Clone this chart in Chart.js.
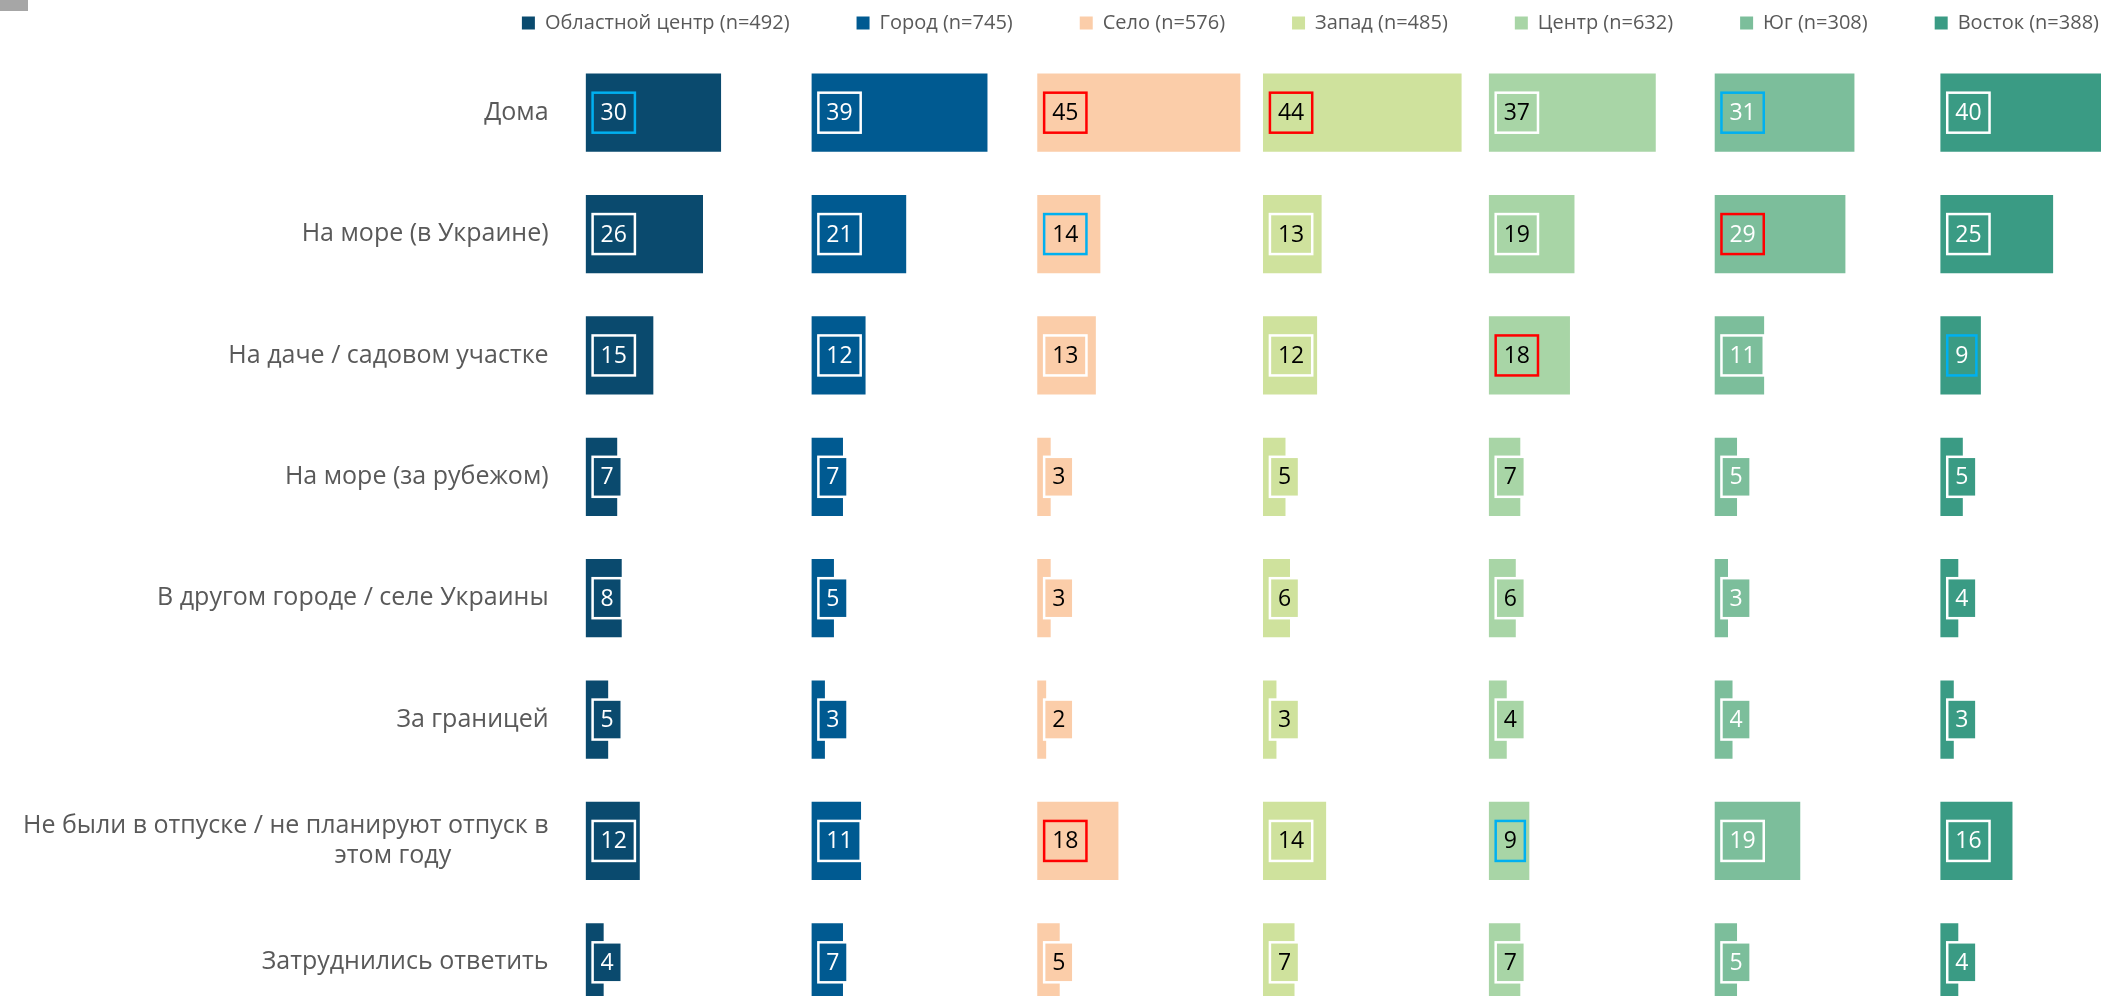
<!DOCTYPE html>
<html>
<head>
<meta charset="utf-8">
<script src="https://cdn.jsdelivr.net/npm/chart.js@4.4.1/dist/chart.umd.min.js"></script>
<style>
  html, body { margin: 0; padding: 0; background: #fff; overflow: hidden; }
  #wrap { position: relative; width: 2166px; height: 1075px; }
  #corner { position: absolute; left: 0; top: 0; width: 28px; height: 11px; background: #a6a6a6; z-index: 2; }
</style>
</head>
<body>
<div id="corner"></div>
<div id="wrap"><canvas id="chart"></canvas></div>
<script>
const categories = [
    'Дома',
    'На море (в Украине)',
    'На даче / садовом участке',
    'На море (за рубежом)',
    'В другом городе / селе Украины',
    'За границей',
    ['Не были в отпуске / не планируют отпуск в', 'этом году'],
    'Затруднились ответить'
];

const seriesNames = ['Областной центр (n=492)', 'Город (n=745)', 'Село (n=576)', 'Запад (n=485)', 'Центр (n=632)', 'Юг (n=308)', 'Восток (n=388)'];

const oblastCenter = [30, 26, 15, 7, 8, 5, 12, 4];
const city = [39, 21, 12, 7, 5, 3, 11, 7];
const village = [45, 14, 13, 3, 3, 2, 18, 5];
const west = [44, 13, 12, 5, 6, 3, 14, 7];
const centre = [37, 19, 18, 7, 6, 4, 9, 7];
const south = [31, 29, 11, 5, 3, 4, 19, 5];
const east = [40, 25, 9, 5, 4, 3, 16, 4];

// [series, category] pairs framed in red / blue
const markedHigh = [[2, 0], [3, 0], [5, 1], [4, 2], [2, 6]];
const markedLow = [[0, 0], [5, 0], [2, 1], [6, 2], [4, 6]];

const allSeries = [oblastCenter, city, village, west, centre, south, east];
const colors = ['#0A4A6E', '#005A91', '#FBCDA9', '#CFE29D', '#A8D5A6', '#7CBE9B', '#3A9B84'];
const textColors = ['#fff', '#fff', '#000', '#000', '#000', '#fff', '#fff'];
const FONT = '"Open Sans", "Noto Sans", sans-serif';

const isMarked = (list, s, c) => list.some(p => p[0] === s && p[1] === c);

const boxLabels = {
    id: 'boxLabels',
    afterDatasetsDraw(chart) {
        const ctx = chart.ctx;
        ctx.save();
        ctx.font = '23px ' + FONT;
        ctx.textAlign = 'center';
        ctx.textBaseline = 'middle';
        chart.data.datasets.forEach((ds, s) => {
            chart.getDatasetMeta(s).data.forEach((bar, c) => {
                const text = String(ds.data[c]);
                const w = ctx.measureText(text).width + 16;
                const h = 40;
                const x = bar.base + 7;
                const y = bar.y - h / 2;
                ctx.fillStyle = ds.backgroundColor;
                ctx.fillRect(x, y, w, h);
                ctx.lineWidth = 2.5;
                ctx.strokeStyle = isMarked(markedHigh, s, c) ? '#FF0000' : isMarked(markedLow, s, c) ? '#00B0F0' : '#ffffff';
                ctx.strokeRect(x, y, w, h);
                ctx.fillStyle = textColors[s];
                ctx.fillText(text, x + w / 2, bar.y + 1);
            });
        });
        ctx.restore();
    }
};

const scales = {
    y: {
        type: 'category',
        labels: categories,
        grid: { display: false, drawTicks: false },
        border: { display: false },
        ticks: {
            color: '#595959',
            font: { family: FONT, size: 25 },
            padding: 37,
            // wrapped second line sits further left, like the original
            callback: function (value) {
                const l = this.getLabelForValue(value);
                return Array.isArray(l) ? [l[0], l[1] + '\u00A0'.repeat(15)] : l;
            }
        },
        afterFit: (s) => { s.width = 585.6; }
    }
};
// one value axis per group, laid side by side in a single stack
allSeries.forEach((d, i) => {
    scales['x' + i] = {
        type: 'linear',
        axis: 'x',
        position: 'top',
        stack: 'cols',
        stackWeight: 1,
        weight: allSeries.length - i,
        min: 0,
        max: 50,
        grid: { display: false, drawTicks: false },
        border: { display: false },
        ticks: { display: false },
        afterFit: (s) => { s.height = 9; }
    };
});

new Chart(document.getElementById('chart'), {
    type: 'bar',
    data: {
        labels: categories,
        datasets: allSeries.map((d, i) => ({
            label: seriesNames[i],
            data: d,
            backgroundColor: colors[i],
            borderWidth: 0,
            xAxisID: 'x' + i,
            yAxisID: 'y',
            grouped: false,
            barPercentage: 0.644,
            categoryPercentage: 1
        }))
    },
    options: {
        indexAxis: 'y',
        responsive: true,
        maintainAspectRatio: false,
        animation: false,
        layout: { padding: { top: -54, left: 0, right: 0, bottom: 0 } },
        plugins: {
            legend: {
                position: 'top',
                align: 'end',
                labels: {
                    boxWidth: 13,
                    boxHeight: 13,
                    padding: 67,
                    color: '#595959',
                    font: { family: FONT, size: 20 }
                }
            },
            tooltip: { enabled: false }
        },
        scales: scales
    },
    plugins: [boxLabels]
});
</script>
</body>
</html>
